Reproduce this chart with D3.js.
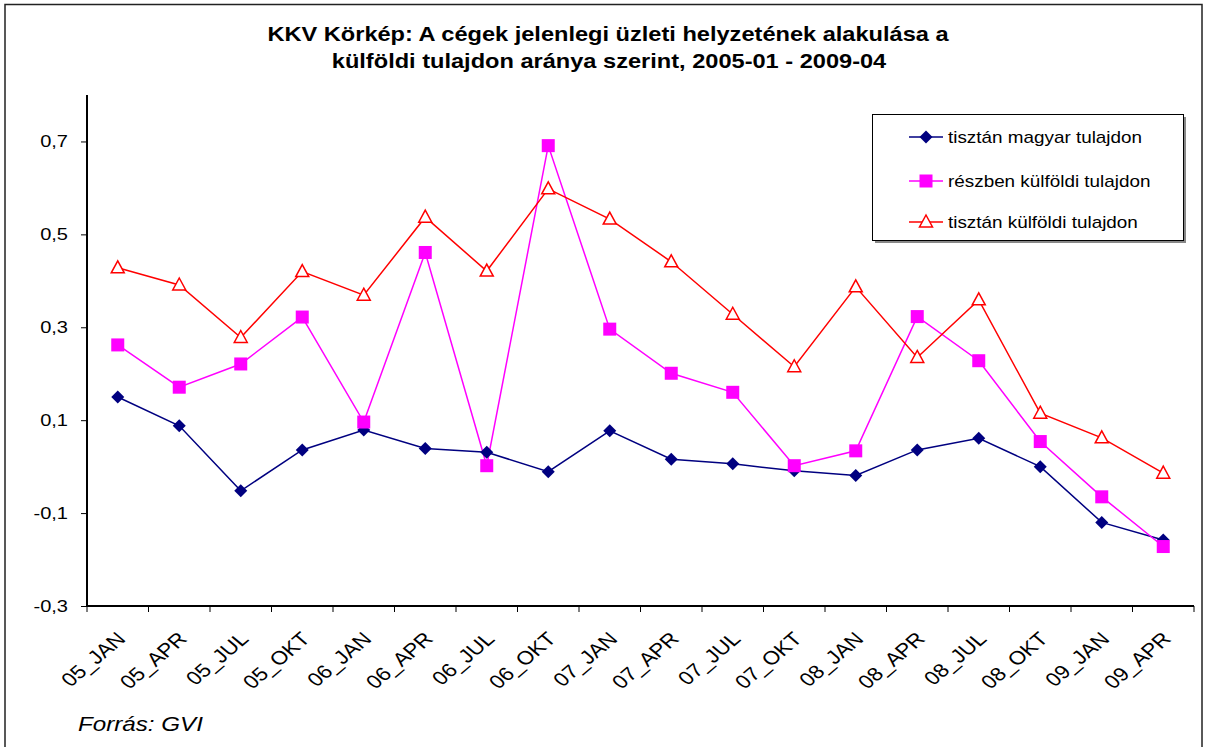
<!DOCTYPE html>
<meta charset="utf-8">
<style>
  body { margin: 0; background: #fff; }
  text { font-family: "Liberation Sans", Arial, sans-serif; }
</style>
<body>
<script src="https://d3js.org/d3.v7.min.js"></script>
<script>
// categories (quarters)
var categories = ["05_JAN","05_APR","05_JUL","05_OKT","06_JAN","06_APR","06_JUL","06_OKT",
  "07_JAN","07_APR","07_JUL","07_OKT","08_JAN","08_APR","08_JUL","08_OKT","09_JAN","09_APR"];

// series values
var magyar = [0.150, 0.088, -0.052, 0.036, 0.079, 0.039, 0.031, -0.011,
  0.077, 0.016, 0.006, -0.009, -0.019, 0.036, 0.061, 0.000, -0.120, -0.158];
var reszben = [0.262, 0.171, 0.221, 0.322, 0.096, 0.461, 0.002, 0.691,
  0.296, 0.201, 0.160, 0.002, 0.034, 0.323, 0.228, 0.054, -0.065, -0.172];
var kulfoldi = [0.428, 0.391, 0.278, 0.420, 0.369, 0.537, 0.421, 0.598,
  0.533, 0.441, 0.328, 0.215, 0.387, 0.235, 0.359, 0.115, 0.062, -0.014];

var yTicks = [-0.3, -0.1, 0.1, 0.3, 0.5, 0.7];

var seriesNames = ["tisztán magyar tulajdon", "részben külföldi tulajdon", "tisztán külföldi tulajdon"];

var W = 1206, H = 747;
var SX = 1.18; // text in the original is drawn a bit wide

var svg = d3.select("body").append("svg")
  .attr("width", W).attr("height", H);

// outer frame
svg.append("rect")
  .attr("x", 5).attr("y", 4.5)
  .attr("width", W - 9).attr("height", H + 10)
  .attr("fill", "#fff").attr("stroke", "#222").attr("stroke-width", 1.5);

// helper: text stretched horizontally
function wideText(g, tx, ty, extra) {
  return g.append("text")
    .attr("transform", "translate(" + tx + "," + ty + ") scale(" + SX + ",1)" + (extra || ""));
}

// title
wideText(svg, 608, 41).attr("text-anchor", "middle")
  .attr("font-weight", "bold").attr("font-size", 20)
  .text("KKV Körkép: A cégek jelenlegi üzleti helyzetének alakulása a");
wideText(svg, 609, 68).attr("text-anchor", "middle")
  .attr("font-weight", "bold").attr("font-size", 20)
  .text("külföldi tulajdon aránya szerint, 2005-01 - 2009-04");

// scales
var x = d3.scaleBand().domain(categories).range([87, 1194]);
var y = d3.scaleLinear().domain([-0.3, 0.8]).range([606, 95]);

// y axis
var yAxis = svg.append("g")
  .attr("transform", "translate(87,0)")
  .call(d3.axisLeft(y).tickValues(yTicks).tickSize(6).tickFormat(""));
yAxis.select(".domain").attr("stroke-width", 2).attr("d", "M0,95V606");
yAxis.selectAll(".tick line").attr("stroke", "#000");

var fmt = function(d) { return d3.format(".1f")(Math.abs(d)).replace(".", ","); };
yTicks.forEach(function(t) {
  wideText(svg, 68, y(t) + 6).attr("text-anchor", "end")
    .attr("font-size", 17).text((t < 0 ? "-" : "") + fmt(t));
});

// x axis
var xAxis = svg.append("g")
  .attr("transform", "translate(0,606)")
  .call(d3.axisBottom(x).tickSize(0).tickFormat(""));
xAxis.select(".domain").attr("stroke-width", 2).attr("d", "M87,0H1194");
xAxis.selectAll(".tick").remove();

// tick marks at band boundaries
var bounds = categories.map(function(c) { return x(c); }).concat([x.range()[1]]);
svg.selectAll(".xt").data(bounds).enter().append("line")
  .attr("x1", function(d) { return d; }).attr("x2", function(d) { return d; })
  .attr("y1", 606).attr("y2", 612)
  .attr("stroke", "#000").attr("stroke-width", 1);

// x labels, rotated
categories.forEach(function(c) {
  var cx = x(c) + x.bandwidth() / 2 + 9;
  wideText(svg, cx, 640, " rotate(-45)").attr("text-anchor", "end")
    .attr("font-size", 19).text(c);
});

// series
var series = [
  { name: seriesNames[0], values: magyar, color: "#000080", marker: "diamond" },
  { name: seriesNames[1], values: reszben, color: "#FF00FF", marker: "square" },
  { name: seriesNames[2], values: kulfoldi, color: "#FF0000", marker: "triangle" }
];

var line = d3.line()
  .x(function(d, i) { return x(categories[i]) + x.bandwidth() / 2; })
  .y(function(d) { return y(d); });

function drawMarker(g, type, color) {
  if (type === "diamond") {
    g.append("path").attr("d", "M0,-6.5L6.5,0L0,6.5L-6.5,0Z").attr("fill", color);
  } else if (type === "square") {
    g.append("rect").attr("x", -6.5).attr("y", -6.5).attr("width", 13).attr("height", 13).attr("fill", color);
  } else {
    g.append("path").attr("d", "M0,-7L6.5,5L-6.5,5Z")
      .attr("fill", "#fff").attr("stroke", color).attr("stroke-width", 1.5);
  }
}

series.forEach(function(s) {
  svg.append("path").datum(s.values)
    .attr("d", line).attr("fill", "none")
    .attr("stroke", s.color).attr("stroke-width", 1.5);
});
series.forEach(function(s) {
  s.values.forEach(function(v, i) {
    var g = svg.append("g")
      .attr("transform", "translate(" + (x(categories[i]) + x.bandwidth() / 2) + "," + y(v) + ")");
    drawMarker(g, s.marker, s.color);
  });
});

// legend
var lg = svg.append("g");
lg.append("rect").attr("x", 875).attr("y", 117).attr("width", 311).attr("height", 126).attr("fill", "#888");
lg.append("rect").attr("x", 872.5).attr("y", 114.5).attr("width", 311).attr("height", 126)
  .attr("fill", "#fff").attr("stroke", "#000").attr("stroke-width", 1);
var ly = [137, 181, 222];
series.forEach(function(s, i) {
  lg.append("line").attr("x1", 909).attr("x2", 943).attr("y1", ly[i]).attr("y2", ly[i])
    .attr("stroke", s.color).attr("stroke-width", 1.5);
  var g = lg.append("g").attr("transform", "translate(926," + ly[i] + ")");
  drawMarker(g, s.marker, s.color);
  wideText(lg, 948, ly[i] + 6).attr("font-size", 16).text(s.name);
});

// source note
wideText(svg, 78, 731).attr("font-size", 20.5).attr("font-style", "italic")
  .text("Forrás: GVI");
</script>
</body>
